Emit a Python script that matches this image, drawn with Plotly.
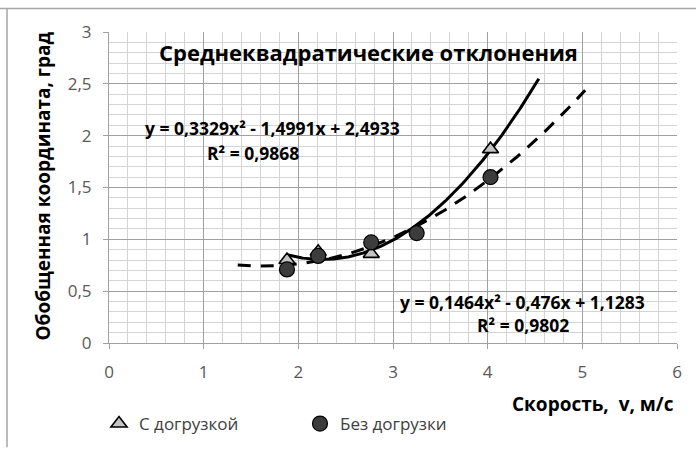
import numpy as np
import plotly.graph_objects as go

# Measured data: speed (m/s) vs. generalized coordinate RMS (deg)
v_load = [1.88, 2.21, 2.77, 4.03]
y_load = [0.80, 0.88, 0.86, 1.87]
v_noload = [1.88, 2.21, 2.77, 3.25, 4.03]
y_noload = [0.71, 0.84, 0.97, 1.06, 1.60]

# Quadratic trend coefficients (a, b, c) for y = a*x^2 + b*x + c
coef_load = [0.3329, -1.4991, 2.4933]
coef_noload = [0.1464, -0.476, 1.1283]
# Trendline extents (from data range with forecast)
trend_load_range = [1.88, 4.54]
trend_noload_range = [1.36, 5.03]

x_ticks = [0, 1, 2, 3, 4, 5, 6]
x_tick_text = ["0", "1", "2", "3", "4", "5", "6"]
y_ticks = [0, 0.5, 1, 1.5, 2, 2.5, 3]
y_tick_text = ["0", "0,5", "1", "1,5", "2", "2,5", "3"]

W, H = 696, 454
ML, MR, MT, MB = 109, 19, 32, 106
PW, PH = W - ML - MR, H - MT - MB

FONT = "Open Sans"

fig = go.Figure()

xl = np.linspace(*trend_load_range, 200)
xn = np.linspace(*trend_noload_range, 200)
fig.add_trace(go.Scatter(x=xl, y=np.polyval(coef_load, xl), mode="lines",
                         line=dict(color="black", width=3), showlegend=False,
                         hoverinfo="skip"))
fig.add_trace(go.Scatter(x=xn, y=np.polyval(coef_noload, xn), mode="lines",
                         line=dict(color="black", width=3, dash="13px,10px"),
                         showlegend=False, hoverinfo="skip"))

fig.add_trace(go.Scatter(x=v_load, y=y_load, mode="markers", name="С догрузкой",
                         marker=dict(symbol="triangle-up", size=14, color="#c4c4c4",
                                     line=dict(color="black", width=1.6))))
fig.add_trace(go.Scatter(x=v_noload, y=y_noload, mode="markers", name="Без догрузки",
                         marker=dict(symbol="circle", size=15, color="#3c3c3c",
                                     line=dict(color="black", width=1.2))))


def px_x(p):
    return (p - ML) / PW


def px_y(p):
    return (H - MB - p) / PH


annotations = [
    dict(text="<b>Среднеквадратические отклонения</b>", x=px_x(368), y=px_y(52),
         font=dict(size=22)),
    dict(text="<b>y = 0,3329x² - 1,4991x + 2,4933</b>", x=px_x(272), y=px_y(130),
         font=dict(size=17.5)),
    dict(text="<b>R² = 0,9868</b>", x=px_x(253), y=px_y(155), font=dict(size=17.5)),
    dict(text="<b>y = 0,1464x² - 0,476x + 1,1283</b>", x=px_x(522), y=px_y(306),
         font=dict(size=17.5)),
    dict(text="<b>R² = 0,9802</b>", x=px_x(523), y=px_y(330), font=dict(size=17.5)),
    dict(text="<b>Скорость,  v, м/с</b>", x=px_x(593), y=px_y(410),
         font=dict(size=19)),
    dict(text="<b>Обобщенная координата, град</b>", x=px_x(43), y=px_y(189),
         textangle=-90, font=dict(size=19)),
]
for a in annotations:
    a.update(xref="paper", yref="paper", showarrow=False,
             xanchor="center", yanchor="middle")
    a["font"].update(family=FONT, color="black")

frame = dict(type="line", xref="paper", yref="paper",
             line=dict(color="#a6a6a6", width=1.5))
shapes = [
    dict(frame, x0=px_x(0), x1=px_x(W), y0=px_y(8), y1=px_y(8)),
    dict(frame, x0=px_x(7), x1=px_x(7), y0=px_y(8), y1=px_y(H)),
]

axis_common = dict(
    showgrid=True, gridcolor="#a0a0a0", gridwidth=1,
    showline=True, linecolor="#a0a0a0", linewidth=1,
    ticks="outside", ticklen=5, tickcolor="#a0a0a0",
    tickfont=dict(family=FONT, size=17, color="#595959"),
    zeroline=False, mirror=False,
)

fig.update_layout(
    width=W, height=H,
    margin=dict(l=ML, r=MR, t=MT, b=MB),
    paper_bgcolor="white", plot_bgcolor="white",
    font=dict(family=FONT),
    xaxis=dict(axis_common, range=[0, 6], tickvals=x_ticks, ticktext=x_tick_text,
               ticklabelstandoff=9,
               minor=dict(dtick=0.2, showgrid=True, gridcolor="#d4d4d4", gridwidth=1)),
    yaxis=dict(axis_common, range=[0, 3], tickvals=y_ticks, ticktext=y_tick_text,
               ticklabelstandoff=8,
               minor=dict(dtick=0.1, showgrid=True, gridcolor="#d4d4d4", gridwidth=1)),
    legend=dict(orientation="h", x=px_x(99), y=px_y(412), xanchor="left",
                yanchor="top", entrywidth=156, itemwidth=30,
                font=dict(family=FONT, size=17, color="#404040"),
                bgcolor="rgba(0,0,0,0)"),
    annotations=annotations,
    shapes=shapes,
    showlegend=True,
)

fig.write_html("out.html")
